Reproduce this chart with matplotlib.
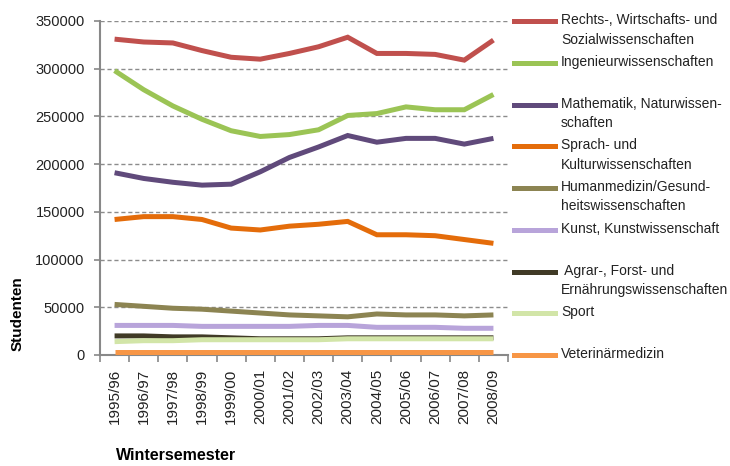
import matplotlib.pyplot as plt
from matplotlib.lines import Line2D

plt.rcParams['font.family'] = ['Liberation Sans', 'DejaVu Sans']

semester = ['1995/96', '1996/97', '1997/98', '1998/99', '1999/00', '2000/01', '2001/02',
            '2002/03', '2003/04', '2004/05', '2005/06', '2006/07', '2007/08', '2008/09']

rechts = [331000, 328000, 327000, 319000, 312000, 310000, 316000, 323000, 333000, 316000, 316000, 315000, 309000, 330000]
ingenieur = [298000, 278000, 261000, 247000, 235000, 229000, 231000, 236000, 251000, 253000, 260000, 257000, 257000, 273000]
mathe = [191000, 185000, 181000, 178000, 179000, 192000, 207000, 218000, 230000, 223000, 227000, 227000, 221000, 227000]
sprach = [142000, 145000, 145000, 142000, 133000, 131000, 135000, 137000, 140000, 126000, 126000, 125000, 121000, 117000]
human = [53000, 51000, 49000, 48000, 46000, 44000, 42000, 41000, 40000, 43000, 42000, 42000, 41000, 42000]
kunst = [31000, 31000, 31000, 30000, 30000, 30000, 30000, 31000, 31000, 29000, 29000, 29000, 28000, 28000]
agrar = [20000, 20000, 19000, 19000, 18000, 17000, 17000, 17000, 18000, 18000, 18000, 18000, 18000, 18000]
sport = [14000, 15000, 15000, 16000, 16000, 16000, 16000, 16000, 17000, 17000, 17000, 17000, 17000, 17000]
veterinaer = [3000] * 14

names = ['Rechts-, Wirtschafts- und\nSozialwissenschaften', 'Ingenieurwissenschaften',
         'Mathematik, Naturwissen-\nschaften', 'Sprach- und\nKulturwissenschaften',
         'Humanmedizin/Gesund-\nheitswissenschaften', 'Kunst, Kunstwissenschaft',
         ' Agrar-, Forst- und\nErnährungswissenschaften', 'Sport', 'Veterinärmedizin']
series = [rechts, ingenieur, mathe, sprach, human, kunst, agrar, sport, veterinaer]
colors = ['#C0504D', '#9BC455', '#604A7B', '#E46C0A', '#8C8452', '#B8A4DA',
          '#403A26', '#D2E5A8', '#F79646']

fig = plt.figure(figsize=(7.3, 4.66), dpi=100)
ax = fig.add_axes([100/730, 1-355/466, 408/730, 334/466])

x = list(range(len(semester)))
for vals, c in zip(series, colors):
    ax.plot(x, vals, color=c, lw=3.6, solid_capstyle='butt', solid_joinstyle='miter',
            zorder=3, clip_on=False)

ax.set_xlim(-0.5, 13.5)
ax.set_ylim(0, 350000)
ax.set_yticks(range(0, 350001, 50000))
ax.yaxis.grid(True, linestyle=(0, (3, 2)), color='#8c8c8c', lw=1)
ax.set_axisbelow(True)
ax.set_xticks(x)
ax.set_xticklabels(semester, rotation=90, fontsize=11, color='#222222')
ax.set_xticks([i - 0.5 for i in range(15)], minor=True)
ax.tick_params(axis='x', which='major', length=0, pad=10)
ax.tick_params(axis='x', which='minor', length=5, color='#888888', width=1.2)
ax.tick_params(axis='y', length=4, color='#888888', width=1.2, labelsize=10.5, labelcolor='#222222', pad=7)
for s in ['top', 'right']:
    ax.spines[s].set_visible(False)
for s in ['left', 'bottom']:
    ax.spines[s].set_color('#888888')
    ax.spines[s].set_linewidth(1.5)
    ax.spines[s].set_zorder(2)

# legend drawn by hand, Excel style spacing
for i, (name, c) in enumerate(zip(names, colors)):
    ypix = 21 + i * 41.75
    yf = 1 - ypix / 466
    fig.add_artist(Line2D([514/730, 555/730], [yf, yf], color=c, lw=3.6, transform=fig.transFigure))
    fig.text(561/730, 1 - (ypix - 8) / 466, name, fontsize=10, va='top', ha='left',
             linespacing=1.5, color='#222222')

fig.text(18/730, 1 - 314/466, 'Studenten', rotation=90, fontsize=11, fontweight='bold',
         va='center', ha='center')
fig.text(176/730, 1 - 455/466, 'Wintersemester', fontsize=11.5, fontweight='bold',
         va='center', ha='center')

fig.savefig('out.png', dpi=100)
